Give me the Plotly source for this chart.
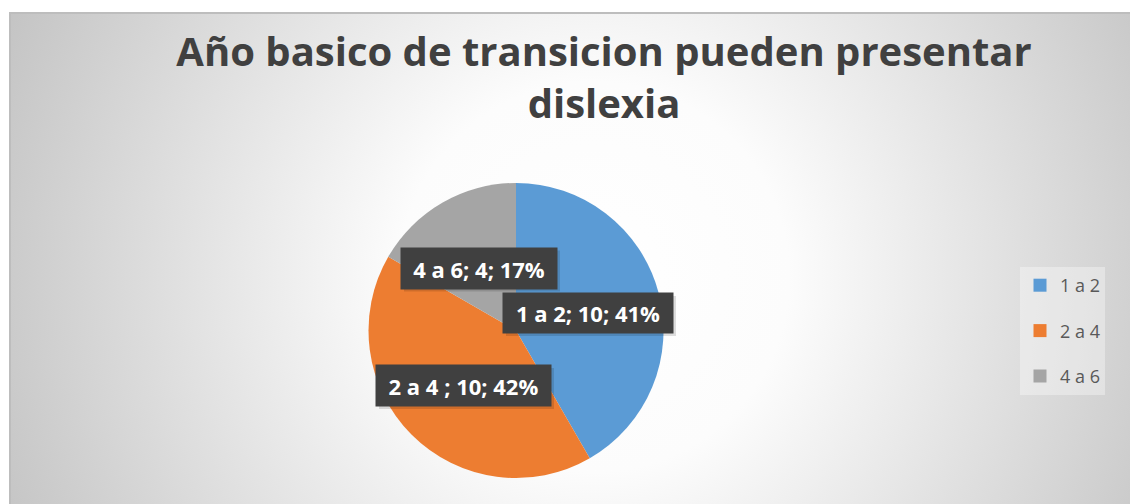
import base64
import plotly.graph_objects as go

# ---- data ----
categories = ["1 a 2", "2 a 4", "4 a 6"]
label_names = ["1 a 2", "2 a 4 ", "4 a 6"]
values = [10, 10, 4]
percents = [41, 42, 17]
colors = ["#5B9BD5", "#ED7D31", "#A5A5A5"]
title_text = "Año basico de transicion pueden presentar<br>dislexia"

# ---- layout helpers ----
W, H = 1130, 504
label_pos_px = [(588, 313), (463.5, 385.5), (479, 268)]   # data-label box centres
label_size_px = [(170, 40), (175, 41), (156, 41)]

# background chart-area (radial gradient) as inline SVG
cw, ch = W - 9, H - 12
svg = f'''<svg xmlns="http://www.w3.org/2000/svg" width="{cw}" height="{ch}" viewBox="0 0 {cw} {ch}" preserveAspectRatio="none">
<defs><radialGradient id="g" gradientUnits="userSpaceOnUse" cx="585" cy="265" r="650">
<stop offset="0" stop-color="#ffffff"/><stop offset="0.3" stop-color="#fcfcfc"/>
<stop offset="1" stop-color="#c3c3c3"/></radialGradient></defs>
<rect x="0" y="0" width="{cw}" height="{ch}" fill="url(#g)"/>
<line x1="0" y1="1" x2="{cw}" y2="1" stroke="#bdbdbd" stroke-width="2"/>
<line x1="1" y1="0" x2="1" y2="{ch}" stroke="#bdbdbd" stroke-width="2"/>
</svg>'''
src = "data:image/svg+xml;base64," + base64.b64encode(svg.encode()).decode()

fig = go.Figure()
fig.add_trace(go.Pie(
    labels=categories, values=values, sort=False, direction="clockwise", rotation=0,
    marker=dict(colors=colors, line=dict(width=0)),
    textinfo="none", hoverinfo="label+value+percent", showlegend=False,
    domain=dict(x=[368 / W, 664 / W], y=[1 - 478 / H, 1 - 183 / H]),
))

for cat, col in zip(categories, colors):
    fig.add_trace(go.Scatter(
        x=[None], y=[None], mode="markers", name=cat, legendgroup=cat,
        marker=dict(symbol="square", size=13, color=col), showlegend=True,
    ))

annotations = []
shapes = []
for name, v, p, (px, py), (bw, bh) in zip(label_names, values, percents, label_pos_px, label_size_px):
    txt = f"{name}; {v}; {p}%"
    # soft drop shadow behind each data-label box
    shapes.append(dict(
        type="rect", xref="paper", yref="paper", layer="above", line=dict(width=0),
        x0=(px - bw / 2 + 3) / W, x1=(px + bw / 2 + 3) / W,
        y0=1 - (py + bh / 2 + 3) / H, y1=1 - (py - bh / 2 + 3) / H,
        fillcolor="rgba(0,0,0,0.13)",
    ))
    annotations.append(dict(
        text=f"<b>{txt}</b>", x=px / W, y=1 - py / H, xref="paper", yref="paper",
        xanchor="center", yanchor="middle", showarrow=False, width=bw, height=bh,
        borderpad=0, bgcolor="#404040",
        font=dict(family="Open Sans", size=22, color="#ffffff"),
    ))

fig.update_layout(
    width=W, height=H, autosize=False,
    margin=dict(l=0, r=0, t=0, b=0),
    paper_bgcolor="#ffffff", plot_bgcolor="rgba(0,0,0,0)",
    title=dict(text=f"<b>{title_text}</b>", x=604 / W, xanchor="center",
               y=1 - 66 / H, yanchor="top",
               font=dict(family="Open Sans", size=40, color="#404040")),
    xaxis=dict(visible=False), yaxis=dict(visible=False),
    legend=dict(x=1020 / W, y=1 - 267 / H, xanchor="left", yanchor="top",
                bgcolor="rgba(255,255,255,0.35)", tracegroupgap=19,
                font=dict(family="Open Sans", size=18, color="#595959"),
                itemclick=False),
    images=[dict(source=src, xref="paper", yref="paper", x=9 / W, y=1 - 12 / H,
                 sizex=cw / W, sizey=ch / H, xanchor="left", yanchor="top",
                 sizing="stretch", layer="below")],
    annotations=annotations,
    shapes=shapes,
)

fig.write_html("out.html", config={"displayModeBar": False},
               post_script="document.body.style.margin='0';")
